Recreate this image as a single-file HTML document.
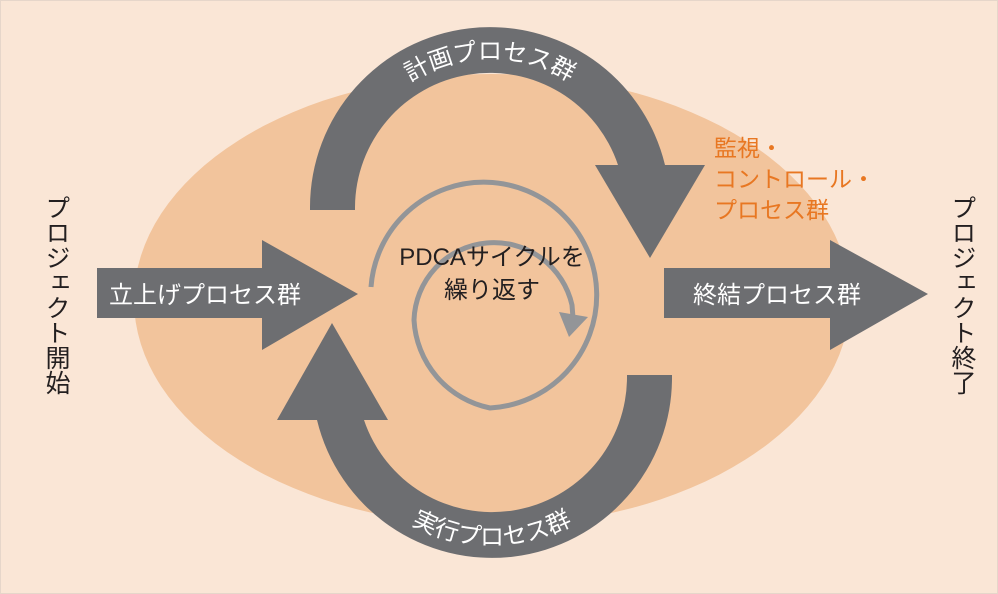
<!DOCTYPE html>
<html><head><meta charset="utf-8"><style>
html,body{margin:0;padding:0;background:#fae6d6;}
svg{display:block}
text{font-family:"Liberation Sans","Noto Sans CJK JP",sans-serif;}
</style></head><body>
<svg width="998" height="594" viewBox="0 0 998 594" xmlns="http://www.w3.org/2000/svg">
<rect x="0.5" y="0.5" width="997" height="593" fill="#fae6d6" stroke="#e6d6ca"/>
<ellipse cx="492" cy="300" rx="358" ry="226" fill="#f2c49c"/>
<!-- top arc -->
<path d="M310,210 L310,207 A180,180 0 0 1 665,165 L618,165 A135,135 0 0 0 355,207 L355,210 Z" fill="#6d6e71"/>
<polygon points="595,165 705,165 650,258" fill="#6d6e71"/>
<!-- bottom arc -->
<path d="M672,375 L672,377 A180,180 0 0 1 317,420 L364,420 A135,135 0 0 0 627,377 L627,375 Z" fill="#6d6e71"/>
<polygon points="277,420 388,420 332,323" fill="#6d6e71"/>
<!-- left arrow -->
<polygon points="97,268 262,268 262,240 358,294 262,350 262,318 97,318" fill="#6d6e71"/>
<!-- right arrow -->
<polygon points="664,268 830,268 830,240 928,294 830,350 830,318 664,318" fill="#6d6e71"/>
<!-- spiral -->
<path d="M371,287 A113,113 0 1 1 490,408 A95,95 0 0 1 414,320 A80,80 0 0 1 572,305 L573,318" fill="none" stroke="#939598" stroke-width="5"/>
<polygon points="559,312 588,317 569,337" fill="#939598"/>
<defs>
<path id="tp" d="M342,207 A148,148 0 0 1 638,207"/>
<path id="bp" d="M324,377 A168,168 0 0 0 660,377"/>
</defs>
<text font-size="24" fill="#fff"><textPath href="#tp" startOffset="50%" text-anchor="middle">計画プロセス群</textPath></text>
<text font-size="24" fill="#fff"><textPath href="#bp" startOffset="50%" text-anchor="middle">実行プロセス群</textPath></text>
<text x="205" y="303" font-size="24" fill="#fff" text-anchor="middle">立上げプロセス群</text>
<text x="777" y="303" font-size="24" fill="#fff" text-anchor="middle">終結プロセス群</text>
<text x="492" y="265" font-size="24" fill="#231f20" text-anchor="middle">PDCAサイクルを</text>
<text x="492" y="298" font-size="24" fill="#231f20" text-anchor="middle">繰り返す</text>
<g font-size="23" fill="#e87722">
<text x="714" y="156">監視・</text>
<text x="714" y="187">コントロール・</text>
<text x="714" y="218">プロセス群</text>
</g>
<text x="56" y="195" font-size="25" fill="#231f20" style="writing-mode:vertical-rl">プロジェクト開始</text>
<text x="962" y="195" font-size="25" fill="#231f20" style="writing-mode:vertical-rl">プロジェクト終了</text>
</svg>
</body></html>
